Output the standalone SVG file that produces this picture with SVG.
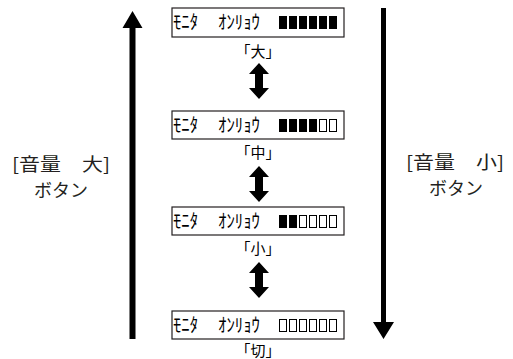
<svg xmlns="http://www.w3.org/2000/svg" width="513" height="359" viewBox="0 0 513 359">
<style>
.box{fill:#fff;stroke:#231f20;stroke-width:1.2}
.lcd{font-family:"Noto Sans CJK JP",sans-serif;font-size:19px;fill:#000}
.lbl{font-family:"Noto Sans CJK JP",sans-serif;font-size:15px;fill:#000;text-anchor:middle}
.big{font-family:"Noto Sans CJK JP",sans-serif;font-size:18px;fill:#231f20;text-anchor:middle}
.on{fill:#000}
.off{fill:#fff;stroke:#000;stroke-width:1}
.dbl{fill:#000}
</style>
<defs>
<g id="dblarrow"><path d="M0,0 L10,11 L4,11 L4,25 L10,25 L0,36 L-10,25 L-4,25 L-4,11 L-10,11 Z"/></g>
</defs>
<g id="connectors">
<path d="M130,339 L130,28 L123,28 L133,11 L143,28 L136,28 L136,339 Z" fill="#000" transform="translate(-0.5,0)"/>
<path d="M381,8 L381,322 L373,322 L383.5,339 L394,322 L386,322 L386,8 Z" fill="#000"/>
<use href="#dblarrow" x="259" y="63" class="dbl"/>
<use href="#dblarrow" x="259" y="166" class="dbl"/>
<use href="#dblarrow" x="259" y="262" class="dbl"/>
</g>
<g id="left-label">
<text class="big"><tspan x="61" y="171" textLength="98" lengthAdjust="spacingAndGlyphs">[音量　大]</tspan><tspan x="61" y="197">ボタン</tspan></text>
</g>
<g id="right-label">
<text class="big"><tspan x="455" y="169" textLength="98" lengthAdjust="spacingAndGlyphs">[音量　小]</tspan><tspan x="456" y="195">ボタン</tspan></text>
</g>
<g id="node-dai">
<rect class="box" x="172" y="8" width="172" height="29"/>
<text class="lcd" x="173" y="29" textLength="25" lengthAdjust="spacingAndGlyphs">ﾓﾆﾀ</text>
<text class="lcd" x="218" y="29" textLength="42" lengthAdjust="spacingAndGlyphs">ｵﾝﾘｮｳ</text>
<rect class="on" x="279" y="16" width="8" height="13"/>
<rect class="on" x="289" y="16" width="8" height="13"/>
<rect class="on" x="299" y="16" width="8" height="13"/>
<rect class="on" x="309" y="16" width="8" height="13"/>
<rect class="on" x="319" y="16" width="8" height="13"/>
<rect class="on" x="329" y="16" width="8" height="13"/>
<text class="lbl" x="258" y="57">「大」</text>
</g>
<g id="node-chu">
<rect class="box" x="172" y="111" width="172" height="28"/>
<text class="lcd" x="173" y="132" textLength="25" lengthAdjust="spacingAndGlyphs">ﾓﾆﾀ</text>
<text class="lcd" x="218" y="132" textLength="42" lengthAdjust="spacingAndGlyphs">ｵﾝﾘｮｳ</text>
<rect class="on" x="279" y="119" width="8" height="13"/>
<rect class="on" x="289" y="119" width="8" height="13"/>
<rect class="on" x="299" y="119" width="8" height="13"/>
<rect class="on" x="309" y="119" width="8" height="13"/>
<rect class="off" x="319.5" y="119.5" width="7" height="12"/>
<rect class="off" x="329.5" y="119.5" width="7" height="12"/>
<text class="lbl" x="258" y="158">「中」</text>
</g>
<g id="node-sho">
<rect class="box" x="172" y="207" width="172" height="28"/>
<text class="lcd" x="173" y="228" textLength="25" lengthAdjust="spacingAndGlyphs">ﾓﾆﾀ</text>
<text class="lcd" x="218" y="228" textLength="42" lengthAdjust="spacingAndGlyphs">ｵﾝﾘｮｳ</text>
<rect class="on" x="279" y="215" width="8" height="13"/>
<rect class="on" x="289" y="215" width="8" height="13"/>
<rect class="off" x="299.5" y="215.5" width="7" height="12"/>
<rect class="off" x="309.5" y="215.5" width="7" height="12"/>
<rect class="off" x="319.5" y="215.5" width="7" height="12"/>
<rect class="off" x="329.5" y="215.5" width="7" height="12"/>
<text class="lbl" x="258" y="254">「小」</text>
</g>
<g id="node-kiri">
<rect class="box" x="172" y="311" width="172" height="28"/>
<text class="lcd" x="173" y="332" textLength="25" lengthAdjust="spacingAndGlyphs">ﾓﾆﾀ</text>
<text class="lcd" x="218" y="332" textLength="42" lengthAdjust="spacingAndGlyphs">ｵﾝﾘｮｳ</text>
<rect class="off" x="279.5" y="319.5" width="7" height="12"/>
<rect class="off" x="289.5" y="319.5" width="7" height="12"/>
<rect class="off" x="299.5" y="319.5" width="7" height="12"/>
<rect class="off" x="309.5" y="319.5" width="7" height="12"/>
<rect class="off" x="319.5" y="319.5" width="7" height="12"/>
<rect class="off" x="329.5" y="319.5" width="7" height="12"/>
<text class="lbl" x="258" y="356">「切」</text>
</g>
</svg>
